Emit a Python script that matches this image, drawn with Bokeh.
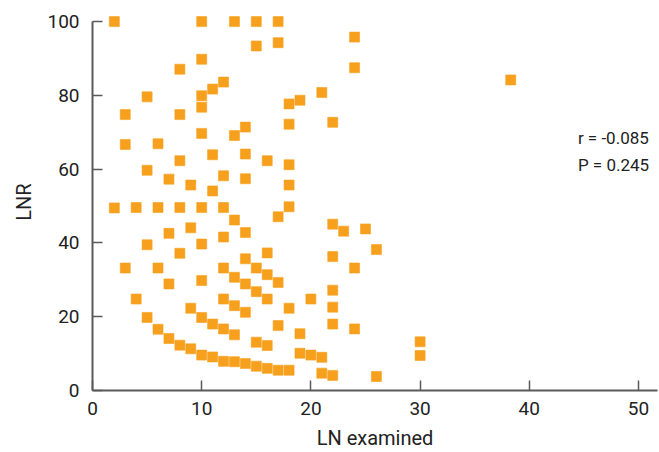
from bokeh.plotting import figure
from bokeh.models import Range1d, Label
from bokeh.embed import file_html
from bokeh.resources import INLINE

# LN examined (x) and LNR (y)
ln_examined = [
    2, 10, 13, 15, 17, 15, 17, 10, 8, 12, 11, 5, 10, 3, 8, 10, 10, 14, 13, 3,
    6, 11, 14, 16, 8, 5, 7, 9, 12, 14, 11,
    2, 4, 6, 8, 10, 12, 13, 17, 7, 9, 12, 14, 5, 10, 8, 14, 16, 3, 6, 12, 15,
    13, 16, 7, 10, 14, 17, 15, 4, 12, 16, 13, 14, 9, 5, 10, 11, 12, 13, 17, 6,
    7, 15, 16, 8, 9, 10, 11, 12, 13, 14, 15, 16, 17,
    24, 24, 21, 19, 18, 18, 22, 18, 18, 18, 22, 23, 25, 26, 22, 24, 22, 20,
    18, 22, 19, 22, 24, 19, 20, 21, 30, 30, 18, 21, 22, 26, 38.3,
]
lnr = [
    100, 100, 100, 100, 100, 93.4, 94.3, 89.8, 87.1, 83.6, 81.7, 79.6, 79.9,
    74.8, 74.8, 76.8, 69.7, 71.4, 69.1, 66.7, 66.9, 63.9, 64.1, 62.3, 62.3,
    59.7, 57.3, 55.7, 58.2, 57.4, 54.1,
    49.5, 49.6, 49.6, 49.6, 49.6, 49.6, 46.2, 47.1, 42.6, 44.1, 41.6, 42.8,
    39.5, 39.7, 37.2, 35.7, 37.3, 33.2, 33.2, 33.2, 33.2, 30.7, 31.4, 28.9,
    29.8, 28.9, 29.3, 26.8, 24.8, 24.8, 24.8, 23.0, 21.2, 22.3, 19.8, 19.8,
    18.0, 16.7, 15.1, 17.6, 16.6, 14.1, 13.1, 12.2, 12.3, 11.3, 9.6, 9.1,
    7.9, 7.8, 7.3, 6.6, 6.0, 5.5,
    95.8, 87.5, 80.8, 78.7, 77.7, 72.2, 72.7, 61.2, 55.7, 49.8, 45.1, 43.2,
    43.8, 38.2, 36.3, 33.2, 27.2, 24.8, 22.3, 22.6, 15.4, 18.0, 16.7, 10.1,
    9.6, 9.0, 13.2, 9.5, 5.5, 4.7, 4.1, 3.8, 84.2,
]
x_ticks = [0, 10, 20, 30, 40, 50]
y_ticks = [0, 20, 40, 60, 80, 100]
stats_text = ["r = -0.085", "P = 0.245"]

FONT = "Roboto"
AXIS_COLOR = "#5a5a5a"
TEXT_COLOR = "#222222"

p = figure(width=659, height=452, output_backend="svg", toolbar_location=None,
           x_range=Range1d(0, 51.74), y_range=Range1d(0, 102.2),
           min_border_left=92, min_border_right=2, min_border_top=13,
           min_border_bottom=61)
p.outline_line_color = None
p.xgrid.grid_line_color = None
p.ygrid.grid_line_color = None

p.scatter(ln_examined, lnr, marker="square", size=10,
          fill_color="#F6A01D", line_color="#F6A01D", line_alpha=0.6)

for ax in (p.xaxis[0], p.yaxis[0]):
    ax.axis_line_color = AXIS_COLOR
    ax.axis_line_width = 2
    ax.major_tick_line_color = AXIS_COLOR
    ax.major_tick_line_width = 1.5
    ax.major_tick_in = 10
    ax.major_tick_out = 0
    ax.minor_tick_line_color = None
    ax.major_label_text_font = FONT
    ax.major_label_text_font_size = "19px"
    ax.major_label_text_color = TEXT_COLOR
    ax.axis_label_text_font = FONT
    ax.axis_label_text_font_size = "20px"
    ax.axis_label_text_font_style = "normal"
    ax.axis_label_text_color = TEXT_COLOR

p.yaxis.bounds = (0, 100)
p.xaxis.ticker = x_ticks
p.yaxis.ticker = y_ticks
p.xaxis.axis_label = "LN examined"
p.yaxis.axis_label = "LNR"
p.xaxis.major_label_standoff = 11
p.yaxis.major_label_standoff = 13
p.xaxis.axis_label_standoff = 8
p.yaxis.axis_label_standoff = 8

p.add_layout(Label(x=44.45, y=68.4, text=stats_text[0], text_font=FONT,
                   text_font_size="17px", text_color=TEXT_COLOR,
                   text_baseline="middle"))
p.add_layout(Label(x=44.45, y=61.1, text=stats_text[1], text_font=FONT,
                   text_font_size="17px", text_color=TEXT_COLOR,
                   text_baseline="middle"))

open("out.html", "w").write(file_html(p, INLINE))
